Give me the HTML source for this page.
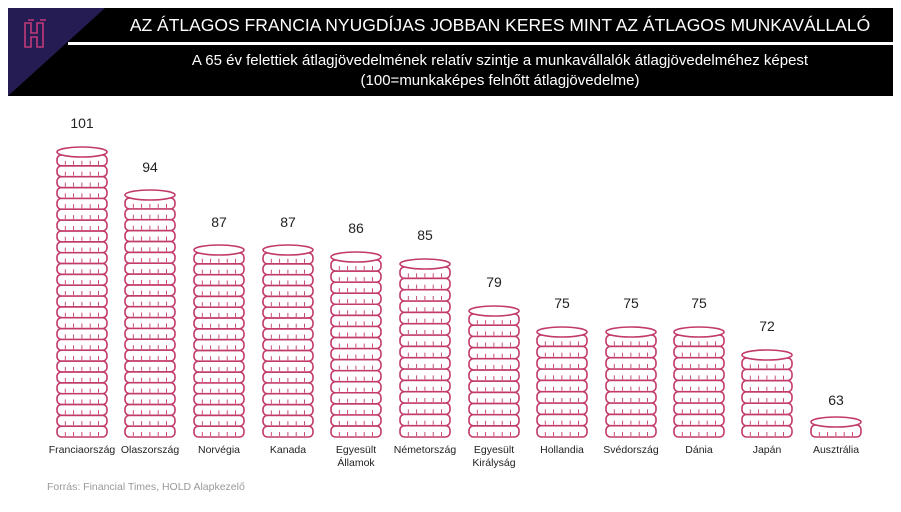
<!DOCTYPE html>
<html><head><meta charset="utf-8"><style>
body{margin:0;background:#fff;width:901px;height:507px;overflow:hidden;font-family:"Liberation Sans",sans-serif}
</style></head><body>
<svg id="s" width="901" height="507" xmlns="http://www.w3.org/2000/svg" font-family="Liberation Sans, sans-serif">
<rect x="8" y="8" width="885" height="88" fill="#000"/>
<polygon points="8,8 105,8 8,96" fill="#241c52"/>
<rect x="68" y="42" width="825" height="3" fill="#fff"/>
<path d="M25,23 v24 h6 v-10 h6 v10 h6 v-24 h-6 v10 h-6 v-10 z M28,20 h6 M40,20 h6" fill="none" stroke="#c23a7a" stroke-width="1.6"/>
<text x="500" y="31" fill="#fff" font-size="17.5" text-anchor="middle">AZ ÁTLAGOS FRANCIA NYUGDÍJAS JOBBAN KERES MINT AZ ÁTLAGOS MUNKAVÁLLALÓ</text>
<text x="500" y="65" fill="#fff" font-size="15" text-anchor="middle">A 65 év felettiek átlagjövedelmének relatív szintje a munkavállalók átlagjövedelméhez képest</text>
<text x="500" y="85" fill="#fff" font-size="15" text-anchor="middle">(100=munkaképes felnőtt átlagjövedelme)</text>
<g id="coins"></g>
<g font-size="14" fill="#222" text-anchor="middle">
<text x="82" y="128">101</text><text x="150" y="172">94</text><text x="219" y="227">87</text><text x="288" y="227">87</text><text x="356" y="233">86</text><text x="425" y="240">85</text><text x="494" y="287">79</text><text x="562" y="308">75</text><text x="631" y="308">75</text><text x="699" y="308">75</text><text x="767" y="331">72</text><text x="836" y="405">63</text>
</g>
<g font-size="10.5" fill="#222" text-anchor="middle">
<text x="82" y="453">Franciaország</text><text x="150" y="453">Olaszország</text><text x="219" y="453">Norvégia</text><text x="288" y="453">Kanada</text><text x="356" y="453">Egyesült</text><text x="356" y="466">Államok</text><text x="425" y="453">Németország</text><text x="494" y="453">Egyesült</text><text x="494" y="466">Királyság</text><text x="562" y="453">Hollandia</text><text x="631" y="453">Svédország</text><text x="699" y="453">Dánia</text><text x="767" y="453">Japán</text><text x="836" y="453">Ausztrália</text>
</g>
<text x="47" y="490" font-size="10.5" fill="#999">Forrás: Financial Times, HOLD Alapkezelő</text>
</svg>
<script>
var g=document.getElementById('coins'),ns='http://www.w3.org/2000/svg',c='#c23a6b';
var d=[[82,147],[150,190],[219,245],[288,245],[356,252],[425,259],[494,306],[562,327],[631,327],[699,327],[767,350],[836,417]];
function el(t,a){var e=document.createElementNS(ns,t);for(var k in a)e.setAttribute(k,a[k]);g.appendChild(e);return e;}
d.forEach(function(p){var cx=p[0],top=p[1],bot=437,pitch=11;
 var n=Math.max(1,Math.round((bot-top-8)/pitch));pitch=(bot-top-8)/n;
 for(var i=0;i<n;i++){var y=bot-(i+1)*pitch;
  el('rect',{x:cx-25,y:y,width:50,height:pitch,rx:4.5,fill:'#fff',stroke:c,'stroke-width':1.6});
  for(var j=1;j<6;j++)el('line',{x1:cx-25+j*8.3,y1:y+pitch-5,x2:cx-25+j*8.3,y2:y+pitch-1,stroke:c,'stroke-width':0.9});
 }
 el('ellipse',{cx:cx,cy:top+5,rx:25,ry:5,fill:'#fff',stroke:c,'stroke-width':1.6});
});
</script>
</body></html>
